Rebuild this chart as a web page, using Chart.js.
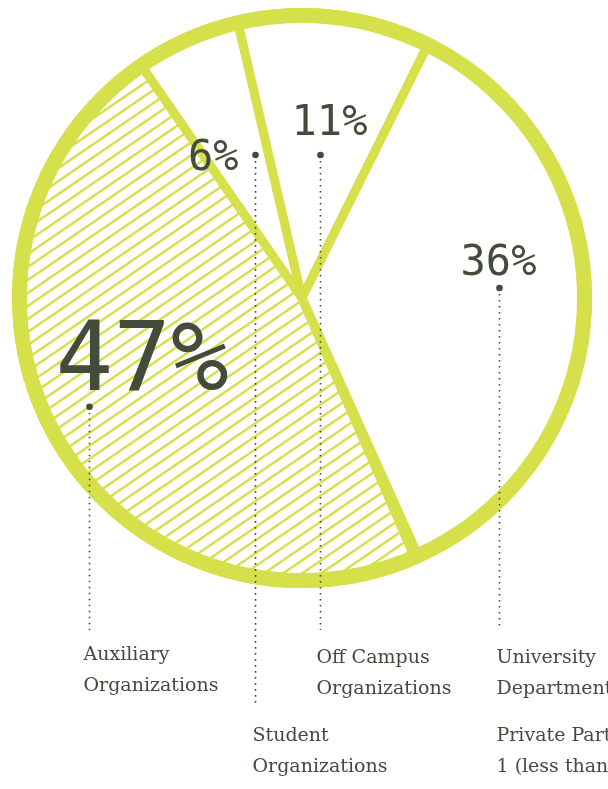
<!DOCTYPE html>
<html>
<head>
<meta charset="utf-8">
<title>Pie</title>
<script src="https://cdn.jsdelivr.net/npm/chart.js@4.4.1/dist/chart.umd.min.js"></script>
<style>
	html, body { margin: 0; padding: 0; background: #fff; overflow: hidden; }
	#pieChart { display: block; }
</style>
</head>
<body>
<canvas id="pieChart" width="608" height="789"></canvas>
<script>
// data
const categories = ['Auxiliary Organizations', 'Student Organizations', 'Off Campus Organizations', 'University Departments', 'Private Parties'];
const captionLines = [
	['Auxiliary', 'Organizations'],
	['Student', 'Organizations'],
	['Off Campus', 'Organizations'],
	['University', 'Departments'],
	['Private Parties', '1 (less than 1%)']
];
const shares = [47, 6, 11, 36, 0.2];
const shareLabels = ['47%', '6%', '11%', '36%', ''];

const GREEN = 'rgb(213, 224, 74)';
const INK = '#434b3b';

// where each annotation sits (fraction along the slice angle / of the radius)
const labelStyle = [
	{ at: 0.512, r: 0.838, size: 96, align: 'left', dx: -34, dy: -17, lineTo: 632, capDx: -6, capY: 660 },
	{ at: 0.763, r: 0.527, size: 42, align: 'right', dx: -17, dy: 15, lineTo: 706, capDx: -3, capY: 741 },
	{ at: 0.513, r: 0.505, size: 42, align: 'center', dx: 9, dy: -20, lineTo: 630, capDx: -4, capY: 663 },
	{ at: 0.469, r: 0.691, size: 42, align: 'center', dx: -1, dy: -13, lineTo: 627, capDx: -3, capY: 663 },
	{ capRef: 3, capY: 741 }
];

// diagonal hatch for the big slice
const makeHatch = (color) => {
	const w = 19, h = 13;
	const c = document.createElement('canvas');
	c.width = w; c.height = h;
	const g = c.getContext('2d');
	g.fillStyle = '#fff';
	g.fillRect(0, 0, w, h);
	g.strokeStyle = color;
	g.lineWidth = 2.4;
	for (let k = -1; k <= 1; k++) {
		g.beginPath();
		g.moveTo(-w, 2 * h + h * k);
		g.lineTo(2 * w, -h + h * k);
		g.stroke();
	}
	return g.createPattern(c, 'repeat');
};

const annotations = {
	id: 'annotations',
	afterDatasetsDraw(chart) {
		const { ctx } = chart;
		const meta = chart.getDatasetMeta(0);
		const first = meta.data[0];
		const cx = first.x, cy = first.y, R = first.outerRadius;

		ctx.save();
		// thicker outer rim
		ctx.strokeStyle = GREEN;
		ctx.lineWidth = 15;
		ctx.beginPath();
		ctx.arc(cx, cy, R - 3, 0, Math.PI * 2);
		ctx.stroke();

		const dots = [];
		meta.data.forEach((arc, i) => {
			const st = labelStyle[i];
			if (st.at === undefined) { dots.push(null); return; }
			const a = arc.startAngle + st.at * (arc.endAngle - arc.startAngle);
			const px = Math.round(cx + Math.cos(a) * R * st.r) + 0.5;
			const py = cy + Math.sin(a) * R * st.r;
			dots.push({ x: px, y: py });

			// leader line
			ctx.strokeStyle = INK;
			ctx.lineWidth = 1.6;
			ctx.setLineDash([1.6, 4.4]);
			ctx.beginPath();
			ctx.moveTo(px, py + 6);
			ctx.lineTo(px, st.lineTo);
			ctx.stroke();
			ctx.setLineDash([]);

			// dot
			ctx.fillStyle = INK;
			ctx.beginPath();
			ctx.arc(px, py, 3.3, 0, Math.PI * 2);
			ctx.fill();

			// percent label
			ctx.font = st.size + 'px "DejaVu Sans Mono"';
			ctx.textAlign = st.align;
			ctx.textBaseline = 'alphabetic';
			ctx.fillText(shareLabels[i], px + st.dx, py + st.dy);
		});

		// captions below
		ctx.fillStyle = INK;
		ctx.font = '19px "DejaVu Serif"';
		ctx.textAlign = 'left';
		ctx.textBaseline = 'alphabetic';
		captionLines.forEach((lines, i) => {
			const st = labelStyle[i];
			let x;
			if (st.capRef !== undefined) {
				x = dots[st.capRef].x + labelStyle[st.capRef].capDx;
			} else {
				x = dots[i].x + st.capDx;
			}
			lines.forEach((t, j) => ctx.fillText(t, x, st.capY + j * 31));
		});
		ctx.restore();
	}
};

const ctx = document.getElementById('pieChart').getContext('2d');

const pieChart = new Chart(ctx, {
	type: 'pie',
	data: {
		labels: categories,
		datasets: [{
			data: shares,
			backgroundColor: [makeHatch(GREEN), '#fff', '#fff', '#fff', '#fff'],
			borderColor: GREEN,
			borderWidth: 9,
			borderAlign: 'center'
		}]
	},
	options: {
		responsive: false,
		animation: false,
		devicePixelRatio: 1,
		rotation: 156.5,
		events: [],
		layout: { padding: { left: 12, top: 8, right: 16, bottom: 201 } },
		plugins: {
			legend: { display: false },
			tooltip: { enabled: false }
		}
	},
	plugins: [annotations]
});
</script>
</body>
</html>
